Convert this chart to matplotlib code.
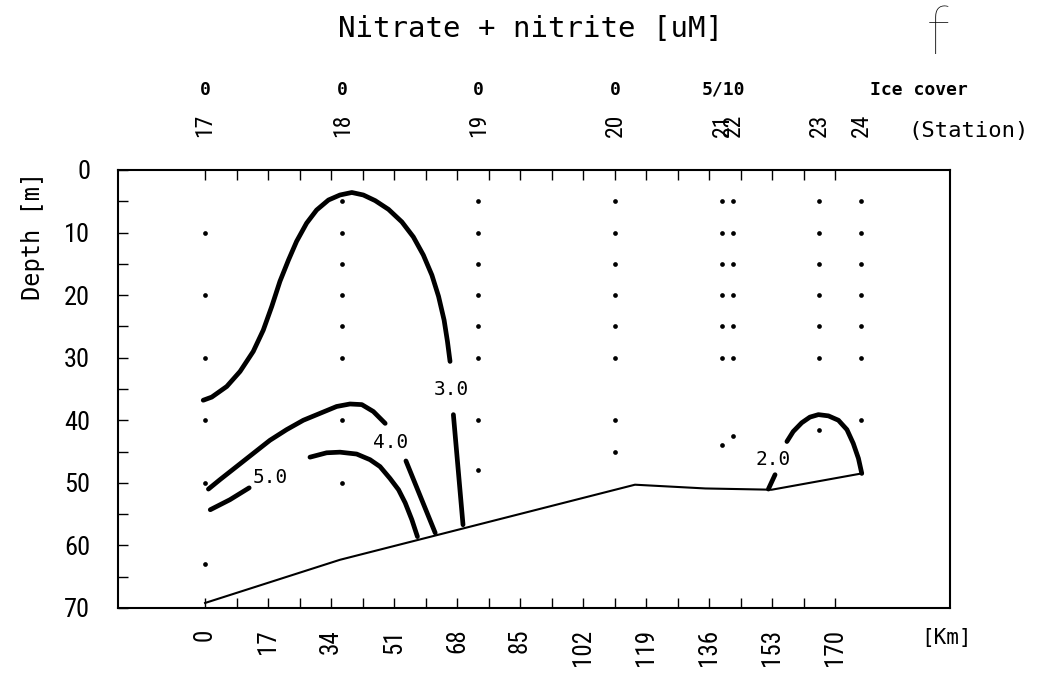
import matplotlib
matplotlib.use('Agg')
import matplotlib.pyplot as plt
from matplotlib import transforms

# stations along the section
stations = ['17', '18', '19', '20', '21', '22', '23', '24']
station_km = [0, 37.0, 73.7, 110.6, 139.5, 142.5, 165.7, 177.0]
sample_depths = [
    [10, 20, 30, 40, 50, 63],
    [5, 10, 15, 20, 25, 30, 40, 50],
    [5, 10, 15, 20, 25, 30, 40, 48],
    [5, 10, 15, 20, 25, 30, 40, 45],
    [5, 10, 15, 20, 25, 30, 44],
    [5, 10, 15, 20, 25, 30, 42.5],
    [5, 10, 15, 20, 25, 30, 41.5],
    [5, 10, 15, 20, 25, 30, 40],
]

ice_km = [0, 37.0, 73.7, 110.6, 140.0]
ice_text = ['0', '0', '0', '0', '5/10']

km_ticks = [0, 17, 34, 51, 68, 85, 102, 119, 136, 153, 170]
depth_ticks = [0, 10, 20, 30, 40, 50, 60, 70]

# bottom profile
floor_km = [0, 36.4, 116.0, 135.0, 152.9, 177.2]
floor_depth = [69.2, 62.3, 50.3, 50.9, 51.1, 48.5]

# isolines of nitrate + nitrite, one list per drawn piece
c3_upper_km = [-0.5, 1.8, 5.85, 9.44, 13.0, 15.7, 18.0, 20.2, 22.5, 24.7, 27.4, 30.1, 33.3,
               36.4, 39.6, 42.7, 45.9, 49.5, 53.1, 56.2, 58.9, 61.2, 63.0, 64.5, 65.4, 66.1]
c3_upper_d = [36.8, 36.3, 34.6, 32.2, 29.0, 25.6, 21.8, 17.8, 14.4, 11.4, 8.5, 6.4, 4.8,
              4.0, 3.6, 4.0, 4.9, 6.3, 8.3, 10.7, 13.6, 16.8, 20.2, 24.0, 27.4, 30.6]
c3_lower_km = [67.0, 69.6]
c3_lower_d = [39.1, 56.7]

c4_upper_km = [0.9, 4.0, 8.5, 13.0, 17.5, 22.0, 26.5, 31.0, 35.5, 39.1, 42.3, 45.4, 48.6]
c4_upper_d = [51.0, 49.5, 47.4, 45.3, 43.2, 41.5, 40.0, 38.9, 37.8, 37.4, 37.5, 38.6, 40.5]
c4_lower_km = [54.2, 62.1]
c4_lower_d = [46.5, 58.0]

c5_left_km = [1.4, 6.7, 11.9]
c5_left_d = [54.3, 52.7, 50.8]
c5_right_km = [28.3, 32.8, 36.4, 40.9, 44.5, 47.2, 49.9, 52.2, 54.0, 55.8, 57.3]
c5_right_d = [45.9, 45.2, 45.1, 45.4, 46.3, 47.4, 49.3, 51.1, 53.2, 55.9, 58.6]

c2_short_km = [152.0, 153.8]
c2_short_d = [51.0, 48.7]
c2_arc_km = [157.0, 158.7, 161.0, 163.2, 165.5, 168.2, 170.9, 173.2, 174.9, 176.3, 177.2]
c2_arc_d = [43.4, 41.8, 40.4, 39.5, 39.1, 39.3, 40.0, 41.5, 43.7, 46.1, 48.5]

labels_text = ['3.0', '4.0', '5.0', '2.0']
labels_km = [66.4, 50.2, 17.5, 153.3]
labels_d = [35.1, 43.5, 49.2, 46.2]

mono = 'DejaVu Sans Mono'
narrow = ['Roboto Condensed', 'Liberation Sans Narrow', 'DejaVu Sans']

fig = plt.figure(figsize=(10.46, 6.75), dpi=100)
ax = fig.add_axes([0.1128, 0.0993, 0.7954, 0.6489])

for km, depths in zip(station_km, sample_depths):
    ax.plot([km] * len(depths), depths, 'o', color='black', ms=3.4, mec='none')

ax.plot(floor_km, floor_depth, color='black', lw=1.5)

pieces = [(c3_upper_km, c3_upper_d), (c3_lower_km, c3_lower_d),
          (c4_upper_km, c4_upper_d), (c4_lower_km, c4_lower_d),
          (c5_left_km, c5_left_d), (c5_right_km, c5_right_d),
          (c2_short_km, c2_short_d), (c2_arc_km, c2_arc_d)]
for xs, ys in pieces:
    ax.plot(xs, ys, color='black', lw=3.4, solid_capstyle='round')

for t, x, y in zip(labels_text, labels_km, labels_d):
    ax.text(x, y, t, family=mono, fontsize=14, ha='center', va='center')

ax.set_xlim(-23.5, 201.0)
ax.set_ylim(70, 0)

ax.set_xticks(km_ticks)
ax.set_xticklabels([str(k) for k in km_ticks], rotation=90, family=narrow, fontsize=18)
ax.set_xticks([k + 8.5 for k in km_ticks[:-1]], minor=True)
ax.set_yticks(depth_ticks)
ax.set_yticklabels([str(d) for d in depth_ticks], family=narrow, fontsize=19)
ax.set_yticks([d + 5 for d in depth_ticks[:-1]], minor=True)

ax.tick_params(axis='both', which='both', direction='in', top=True, right=False,
               length=7, width=1)
ax.tick_params(axis='x', which='major', pad=15)
ax.tick_params(axis='y', which='major', pad=20)
for s in ax.spines.values():
    s.set_linewidth(1.5)

# station numbers and ice cover above the frame
top = transforms.blended_transform_factory(ax.transData, fig.transFigure)
for name, km in zip(stations, station_km):
    ax.text(km, 1 - 125 / 675, name, transform=top, rotation=90, family=narrow,
            fontsize=17, ha='center', va='center', clip_on=False)
for t, km in zip(ice_text, ice_km):
    ax.text(km, 1 - 90 / 675, t, transform=top, family=mono, fontweight='bold',
            fontsize=13, ha='center', va='center', clip_on=False)

fig.text(870 / 1046, 1 - 90 / 675, 'Ice cover', family=mono, fontweight='bold',
         fontsize=13, ha='left', va='center')
fig.text(908 / 1046, 1 - 131 / 675, '(Station)', family=mono, fontsize=16,
         ha='left', va='center')
fig.text(530 / 1046, 1 - 29 / 675, 'Nitrate + nitrite [uM]', family=mono, fontsize=21,
         ha='center', va='center')
fig.text(938 / 1046, 1 - 36 / 675, 'f', family='Lato', fontweight='light', fontsize=50,
         ha='center', va='center')
fig.text(33 / 1046, 1 - 236 / 675, 'Depth [m]', family=mono, fontsize=17, rotation=90,
         ha='center', va='center')
fig.text(947 / 1046, 1 - 638 / 675, '[Km]', family=mono, fontsize=15,
         ha='center', va='center')

fig.savefig('out.png', dpi=100)
